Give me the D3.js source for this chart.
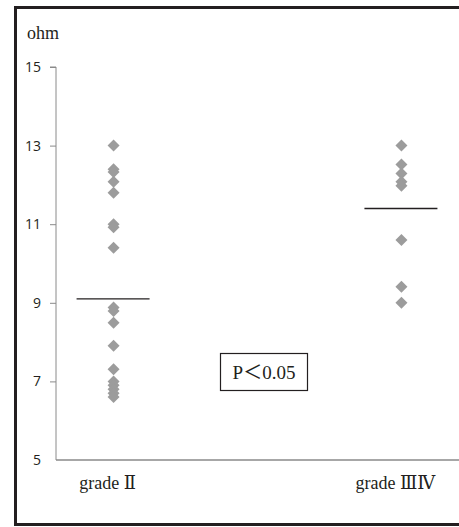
<!DOCTYPE html>
<html>
<head>
<meta charset="utf-8">
<script src="https://cdn.jsdelivr.net/npm/d3@7"></script>
<style>
  body { margin: 0; background: #fff; overflow: hidden; }
  svg { display: block; overflow: hidden; }
</style>
</head>
<body>
<div id="main"></div>
<script>
// data
var categories = ["grade Ⅱ", "grade ⅢⅣ"];
var gradeII = [13.0, 12.4, 12.33, 12.08, 11.8, 11.0, 10.92, 10.4, 8.88, 8.79, 8.49, 7.91, 7.31, 7.0, 6.9, 6.8, 6.7, 6.6];
var gradeIIIIV = [13.0, 12.52, 12.29, 12.08, 11.98, 10.6, 9.41, 9.0];
var meanValues = [9.1, 11.4];
var yTicks = [5, 7, 9, 11, 13, 15];
var pText = "P＜0.05";
var yTitle = "ohm";

var width = 459, height = 527;
var svg = d3.select("#main").append("svg")
    .attr("width", width).attr("height", height);

// outer frame: left, top, bottom only (right side runs off the picture)
svg.append("path")
    .attr("d", "M" + width + ",7.5H15.5V524.5H" + width)
    .attr("fill", "none")
    .attr("stroke", "#231f20")
    .attr("stroke-width", 3);

var x = d3.scalePoint().domain(categories).range([56, 459]).padding(0.2);
var y = d3.scaleLinear().domain([5, 15]).range([460, 67]);

// y axis
var yAxis = svg.append("g")
    .attr("transform", "translate(56,0)")
    .call(d3.axisLeft(y).tickValues(yTicks).tickSize(6).tickPadding(9));
yAxis.select(".domain").attr("stroke", "#8a8a8a").attr("d", "M-6," + y(15) + "H0V" + y(5));
yAxis.selectAll(".tick line").attr("stroke", "#8a8a8a");
yAxis.selectAll(".tick text")
    .attr("font-family", "'Open Sans', 'DejaVu Sans', sans-serif")
    .attr("font-size", 14)
    .attr("fill", "#231f20");
yAxis.select(".tick:first-of-type line").remove();

// x axis line
svg.append("line")
    .attr("x1", 56).attr("x2", width)
    .attr("y1", y(5)).attr("y2", y(5))
    .attr("stroke", "#8a8a8a").attr("stroke-width", 1.3);

// y title
svg.append("text")
    .attr("x", 27).attr("y", 39)
    .attr("font-family", "'Liberation Serif', 'DejaVu Serif', serif")
    .attr("font-size", 18)
    .attr("fill", "#231f20")
    .text(yTitle);

// category labels
svg.selectAll(".cat")
    .data(categories)
    .enter().append("text")
    .attr("class", "cat")
    .attr("x", function(d) { return x(d) - 6; })
    .attr("y", 489)
    .attr("text-anchor", "middle")
    .attr("font-family", "'Liberation Serif', 'DejaVu Serif', serif")
    .attr("font-size", 18)
    .attr("fill", "#231f20")
    .text(function(d) { return d; });

// points
var series = [gradeII, gradeIIIIV];
var diamond = d3.symbol().type(d3.symbolSquare).size(72);
series.forEach(function(vals, i) {
    svg.selectAll(".pt" + i)
        .data(vals)
        .enter().append("path")
        .attr("class", "pt" + i)
        .attr("d", diamond)
        .attr("transform", function(d) {
            return "translate(" + x(categories[i]) + "," + y(d) + ") rotate(45)";
        })
        .attr("fill", "#9c9c9c");
});

// mean lines
svg.selectAll(".mean")
    .data(meanValues)
    .enter().append("line")
    .attr("class", "mean")
    .attr("x1", function(d, i) { return x(categories[i]) - 37; })
    .attr("x2", function(d, i) { return x(categories[i]) + 36; })
    .attr("y1", function(d) { return y(d); })
    .attr("y2", function(d) { return y(d); })
    .attr("stroke", "#231f20")
    .attr("stroke-width", 1.4);

// p value box
var pg = svg.append("g");
pg.append("rect")
    .attr("x", 220.5).attr("y", 353.5)
    .attr("width", 87).attr("height", 37)
    .attr("fill", "#fff")
    .attr("stroke", "#231f20")
    .attr("stroke-width", 1.2);
pg.append("text")
    .attr("x", 264).attr("y", 379)
    .attr("text-anchor", "middle")
    .attr("font-family", "'Liberation Serif', 'Noto Sans CJK SC', serif")
    .attr("font-size", 19)
    .attr("fill", "#231f20")
    .text(pText);
</script>
</body>
</html>
